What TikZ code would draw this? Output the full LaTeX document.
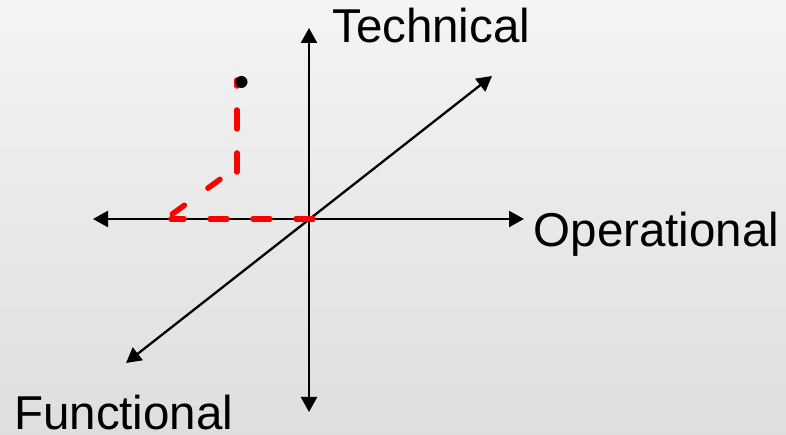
\documentclass[tikz,border=0pt]{standalone}
\usepackage{fontspec}
\setmainfont{Liberation Sans}
\usetikzlibrary{arrows.meta}
\definecolor{bgtop}{RGB}{244,244,244}
\definecolor{bgbot}{RGB}{222,222,222}
\definecolor{dashred}{RGB}{255,0,0}
\begin{document}
\begin{tikzpicture}[x=1pt,y=1pt,
  axis/.style={line width=2.3pt,{Triangle[length=15pt,width=16pt]}-{Triangle[length=15pt,width=16pt]}},
  lbl/.style={inner sep=0pt,anchor=base west,font=\fontsize{47.5}{56}\selectfont},
  reddash/.style={dashred,line width=5.5pt,line cap=round}]
\shade[top color=bgtop,bottom color=bgbot] (0,0) rectangle (786,435);
\useasboundingbox (0,0) rectangle (786,435);
% axis ends
\coordinate (top) at (309,407);
\coordinate (bot) at (309,23);
\coordinate (left) at (93,216);
\coordinate (right) at (524,216);
\coordinate (ne) at (492,359);
\coordinate (sw) at (126,72);
% red path points
\coordinate (p1) at (237,355);
\coordinate (p2) at (237,262);
\coordinate (p2b) at (237,268);
\coordinate (p3) at (171,220);
\coordinate (p3b) at (171,216);
\coordinate (p4) at (313,216);
% axes
\draw[axis] (bot) -- (top);
\draw[axis] (left) -- (right);
\draw[axis] (sw) -- (ne);
% red dashed path
\draw[reddash,dash pattern=on 19pt off 24pt,dash phase=13pt] (p1) -- (p2);
\draw[reddash,dash pattern=on 15pt off 29pt,dash phase=23pt] (p2b) -- (p3);
\draw[reddash,dash pattern=on 17pt off 26pt,dash phase=4pt] (p3b) -- (p4);
% dot
\node[circle,fill=black,inner sep=0pt,minimum size=12pt] (dot) at (241.5,353) {};
% labels
\node[lbl] (tech) at (332,392) {Technical};
\node[lbl] (oper) at (533.5,188.5) {Operational};
\node[lbl] (func) at (14,5.5) {Functional};
\end{tikzpicture}
\end{document}
